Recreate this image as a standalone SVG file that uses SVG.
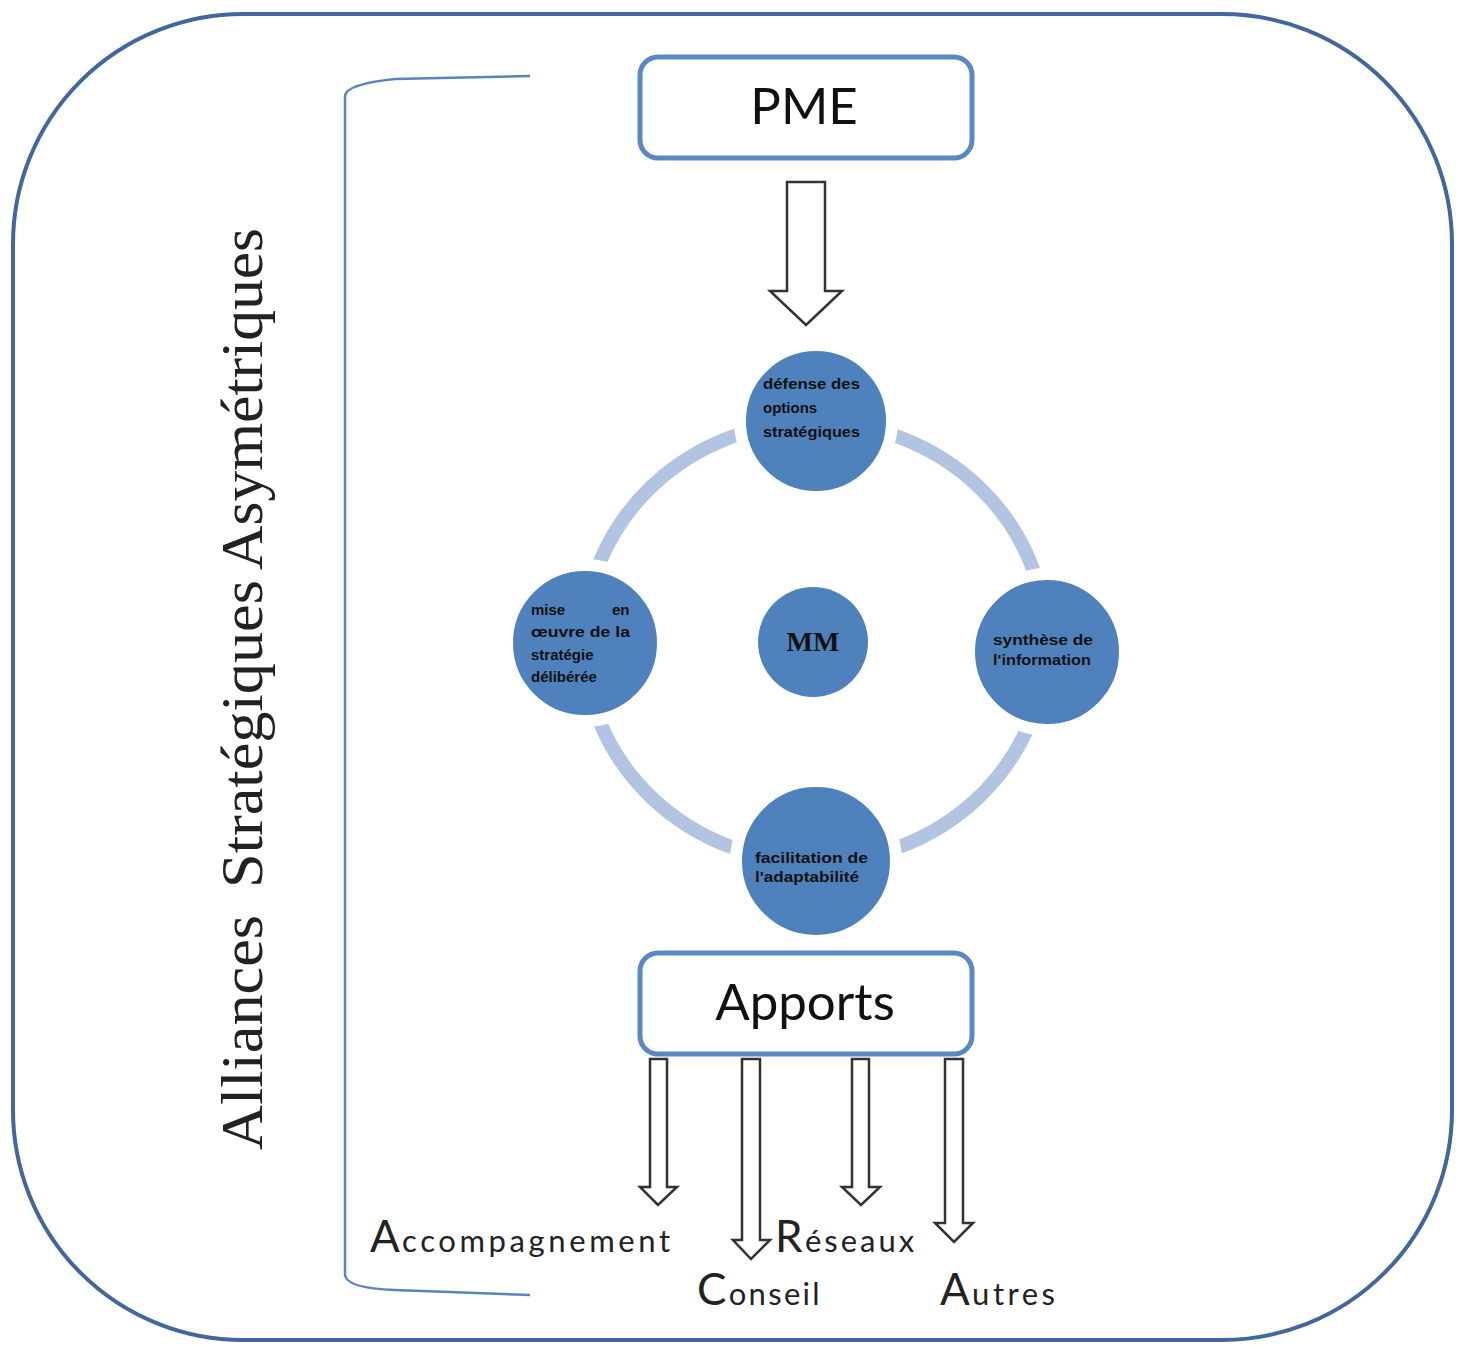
<svg xmlns="http://www.w3.org/2000/svg" width="1465" height="1345" viewBox="0 0 1465 1345">
<style>
.box{fill:#fff;stroke:#5A88C6;stroke-width:5}
.big{font-family:Lato,"Open Sans",sans-serif;font-size:51px;fill:#111;text-anchor:middle}
.node{fill:#4F81BD;stroke:#fff;stroke-width:12}
.nt{font-family:"Liberation Sans",Arial,sans-serif;font-weight:bold;font-size:15px;fill:#111}
.arr{fill:#fff;stroke:#333;stroke-width:2.5;stroke-linejoin:miter}
.lab{font-family:Lato,"Open Sans",sans-serif;fill:#222;letter-spacing:2.3px}
.cap{font-size:44px}
.low{font-size:31px}
.vt{font-family:"Liberation Serif",serif;font-size:60px;fill:#222}
</style>
<rect x="13" y="14" width="1439" height="1326" rx="230" ry="230" fill="#fff" stroke="#41679E" stroke-width="4"/>
<path d="M530,76 L395,79 Q346,84 345,96 L345,1275 Q346,1288 395,1290 L530,1295" fill="none" stroke="#5B84BE" stroke-width="2.5"/>
<g transform="rotate(-90 262 1150)">
<text class="vt" x="262" y="1150" textLength="235" lengthAdjust="spacingAndGlyphs">Alliances</text>
<text class="vt" x="524" y="1150" textLength="308" lengthAdjust="spacingAndGlyphs">Stratégiques</text>
<text class="vt" x="842" y="1150" textLength="342" lengthAdjust="spacingAndGlyphs">Asymétriques</text>
</g>
<g id="connectors">
<ellipse cx="815" cy="642" rx="231" ry="220" fill="none" stroke="#B3C4E2" stroke-width="14"/>
<path class="arr" d="M787,182 L825,182 L825,291 L842,291 L806,325 L770,291 L787,291 Z"/>
<path class="arr" d="M650,1059 L667,1059 L667,1187 L677,1187 L658,1205 L640,1187 L650,1187 Z"/>
<path class="arr" d="M742,1059 L760,1059 L760,1240 L770,1240 L751,1259 L733,1240 L742,1240 Z"/>
<path class="arr" d="M852,1059 L869,1059 L869,1187 L880,1187 L861,1205 L842,1187 L852,1187 Z"/>
<path class="arr" d="M945,1059 L963,1059 L963,1223 L973,1223 L954,1242 L935,1223 L945,1223 Z"/>
</g>
<g id="pme"><rect class="box" x="640" y="57" width="332" height="101" rx="18"/><text class="big" x="804" y="124">PME</text></g>
<g id="apports"><rect class="box" x="640" y="953" width="332" height="101" rx="18"/><text class="big" x="805" y="1020">Apports</text></g>
<g id="n-top"><circle class="node" cx="816" cy="421" r="76"/>
<text class="nt"><tspan x="763" y="389" textLength="97" lengthAdjust="spacingAndGlyphs">défense des</tspan><tspan x="763" y="413">options</tspan><tspan x="763" y="437" textLength="97" lengthAdjust="spacingAndGlyphs">stratégiques</tspan></text></g>
<g id="n-left"><circle class="node" cx="585" cy="643" r="78"/>
<text class="nt"><tspan x="531" y="615">mise</tspan><tspan x="612" y="615">en</tspan><tspan x="531" y="637" textLength="99" lengthAdjust="spacingAndGlyphs">œuvre de la</tspan><tspan x="531" y="660">stratégie</tspan><tspan x="531" y="682">délibérée</tspan></text></g>
<g id="n-right"><circle class="node" cx="1047" cy="652" r="78"/>
<text class="nt"><tspan x="993" y="645" textLength="100" lengthAdjust="spacingAndGlyphs">synthèse de</tspan><tspan x="993" y="665" textLength="98" lengthAdjust="spacingAndGlyphs">l'information</tspan></text></g>
<g id="n-bottom"><circle class="node" cx="816" cy="861" r="80"/>
<text class="nt"><tspan x="755" y="863" textLength="113" lengthAdjust="spacingAndGlyphs">facilitation de</tspan><tspan x="755" y="882" textLength="104" lengthAdjust="spacingAndGlyphs">l'adaptabilité</tspan></text></g>
<g id="n-mm"><circle cx="813" cy="642" r="55" fill="#4F81BD"/><text x="813" y="651" font-family="Liberation Serif,serif" font-weight="bold" font-size="28" fill="#111" text-anchor="middle">MM</text></g>
<g id="labels">
<text class="lab" x="370" y="1252"><tspan class="cap">A</tspan><tspan class="low" letter-spacing="3.6px">ccompagnement</tspan></text>
<text class="lab" x="697" y="1305"><tspan class="cap">C</tspan><tspan class="low">onseil</tspan></text>
<text class="lab" x="775" y="1252"><tspan class="cap">R</tspan><tspan class="low" letter-spacing="3px">éseaux</tspan></text>
<text class="lab" x="940" y="1305"><tspan class="cap">A</tspan><tspan class="low" letter-spacing="3.5px">utres</tspan></text>
</g>
</svg>
